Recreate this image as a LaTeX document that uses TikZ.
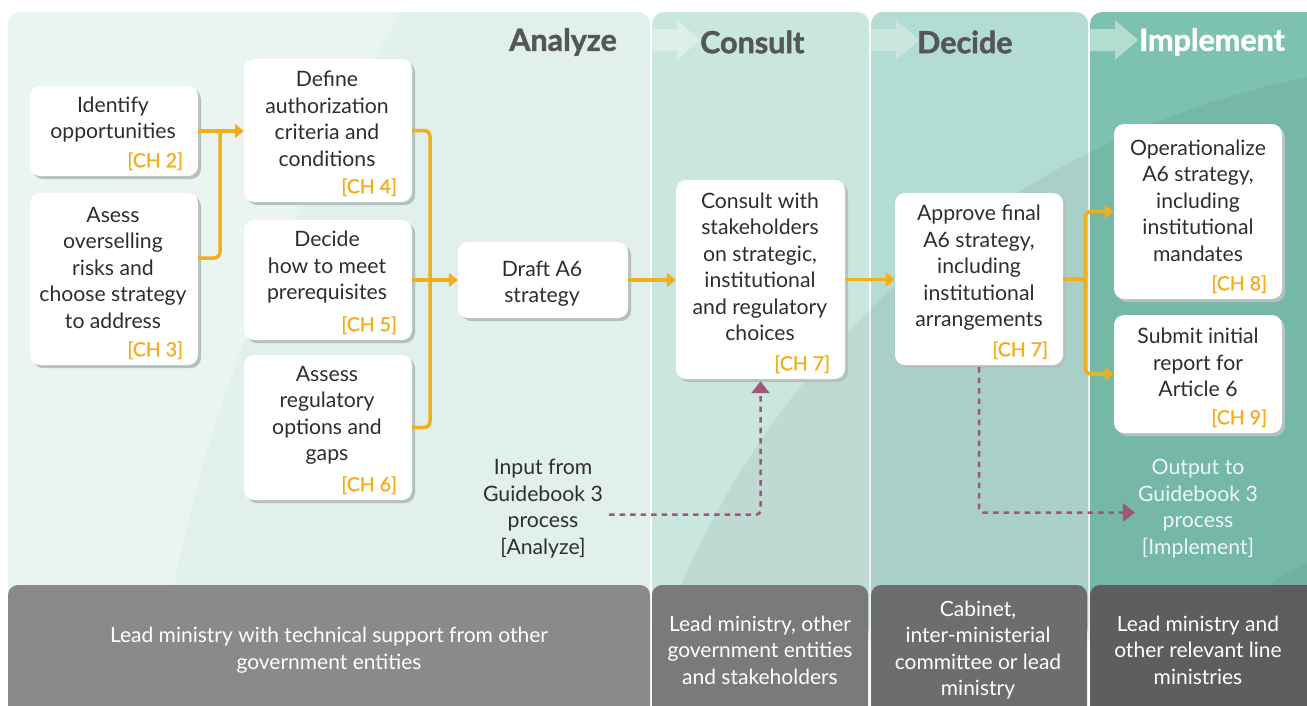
\documentclass[tikz,border=0pt]{standalone}
\usepackage{fontspec}
\setmainfont{Lato}
\newfontfamily\chfont[FakeBold=1.2]{Lato}
\newfontfamily\headfont[BoldFeatures={FakeBold=1.5}]{Lato}
\usetikzlibrary{arrows.meta,shadows}
\definecolor{pA}{HTML}{E1F0EC}
\definecolor{pC}{HTML}{C9E6DF}
\definecolor{pD}{HTML}{B3DCD3}
\definecolor{pI}{HTML}{7CC2AE}
\definecolor{chC}{HTML}{DCEFEA}
\definecolor{chD}{HTML}{C9E7DF}
\definecolor{chI}{HTML}{B3DDD0}
\definecolor{gA}{HTML}{8A8A8C}
\definecolor{gC}{HTML}{7A7A7C}
\definecolor{gD}{HTML}{6D6D6F}
\definecolor{gI}{HTML}{5E5E60}
\definecolor{txt}{HTML}{2E2E2E}
\definecolor{hd}{HTML}{555658}
\definecolor{orng}{HTML}{F3AE1B}
\definecolor{purp}{HTML}{9E5679}
\definecolor{shd}{HTML}{B4C2BF}
\definecolor{outc}{HTML}{EDF8F4}
\tikzset{
  box/.style={fill=white, rounded corners=10pt, inner sep=0pt,
    drop shadow={shadow xshift=3pt, shadow yshift=-3pt, fill=shd, opacity=1}},
  body/.style={inner sep=0pt, align=center, text=txt, font=\fontsize{21.2}{26.5}\selectfont},
  chl/.style={inner sep=0pt, anchor=east, text=orng, font=\chfont\fontsize{19.5}{24}\selectfont},
  head/.style={inner sep=0pt, font=\headfont\bfseries\fontsize{30.5}{34}\selectfont},
  gtxt/.style={inner sep=0pt, align=center, text=white, font=\fontsize{21}{26.5}\selectfont},
  oline/.style={draw=orng, line width=3.5pt, rounded corners=6pt},
  otip/.style={-{Triangle[length=9pt,width=14pt]}},
  pline/.style={draw=purp, line width=2.5pt, dash pattern=on 5.5pt off 5pt, rounded corners=4pt,
    -{Triangle[length=12pt,width=18pt]}},
}
\begin{document}
\begin{tikzpicture}[x=1pt,y=-1pt]
\clip (0,0) rectangle (1307,705);
\fill[white] (0,0) rectangle (1307,705);
% panels
\fill[pA, rounded corners=12pt] (8,12) rectangle (650,640);
\begin{scope}
  \clip[rounded corners=12pt] (8,12) rectangle (650,640);
  \fill[white, opacity=0.3] (8,12) -- (400,12) .. controls (300,200) and (200,400) .. (165,640) -- (8,640) -- cycle;
\end{scope}
\fill[pC, rounded corners=12pt] (652,12) rectangle (869,640);
\fill[pD, rounded corners=12pt] (871,12) rectangle (1088,640);
\fill[pI, rounded corners=12pt] (1090,12) rectangle (1320,640);
\begin{scope}
  \clip (652,12) rectangle (1320,640);
  \fill[black, opacity=0.05] (1480,930) circle[radius=870];
  \fill[black, opacity=0.04] (1420,820) circle[radius=280];
\end{scope}
% chevrons
\fill[chC] (652,29) -- (677,29) -- (677,20) -- (700,40) -- (677,60) -- (677,51) -- (652,51) -- cycle;
\fill[chD] (871,29) -- (896,29) -- (896,20) -- (919,40) -- (896,60) -- (896,51) -- (871,51) -- cycle;
\fill[chI] (1090,29) -- (1115,29) -- (1115,20) -- (1138,40) -- (1115,60) -- (1115,51) -- (1090,51) -- cycle;
% headers
\node[head, text=hd, anchor=east] (hA) at (617,42) {Analyze};
\node[head, text=hd, anchor=west] (hC) at (700,42) {Consult};
\node[head, text=hd, anchor=west] (hD) at (917,42) {Decide};
\node[head, text=white, anchor=west] (hI) at (1139,42) {Implement};
% bottom gray boxes
\fill[gA, rounded corners=10pt] (8,585) rectangle (650,730);
\fill[gC, rounded corners=10pt] (652,585) rectangle (868,730);
\fill[gD, rounded corners=10pt] (871,585) rectangle (1087,730);
\fill[gI, rounded corners=10pt] (1090,585) rectangle (1320,730);
\node[gtxt] (gtA) at (329,650) {Lead ministry with technical support from other\\government entities};
\node[gtxt] (gtC) at (760,650) {Lead ministry, other\\government entities\\and stakeholders};
\node[gtxt] (gtD) at (978,650) {Cabinet,\\inter-ministerial\\committee or lead\\ministry};
\node[gtxt] (gtI) at (1198,650) {Lead ministry and\\other relevant line\\ministries};
% boxes
\node[box, minimum width=168pt, minimum height=90pt] (b1) at (114,131) {};
\node[box, minimum width=168pt, minimum height=172pt] (b2) at (114,279) {};
\node[box, minimum width=168pt, minimum height=143pt] (b3) at (328,130.5) {};
\node[box, minimum width=168pt, minimum height=120pt] (b4) at (328,280) {};
\node[box, minimum width=168pt, minimum height=145pt] (b5) at (328,427.5) {};
\node[box, minimum width=170pt, minimum height=76pt] (b6) at (543,280) {};
\node[box, minimum width=169pt, minimum height=199pt] (b7) at (760.5,279.5) {};
\node[box, minimum width=168pt, minimum height=172pt] (b8) at (979,279) {};
\node[box, minimum width=168pt, minimum height=175pt] (b9) at (1198,211.5) {};
\node[box, minimum width=168pt, minimum height=118pt] (b10) at (1198,374) {};
% box texts
\node[body] (t1) at (113,119.5) {Identify\\opportunities};
\node[body] (t2) at (113,267.5) {Asess\\overselling\\risks and\\choose strategy\\to address};
\node[body] (t3) at (327,119) {Define\\authorization\\criteria and\\conditions};
\node[body] (t4) at (327,267.5) {Decide\\how to meet\\prerequisites};
\node[body] (t5) at (327,415.5) {Assess\\regulatory\\options and\\gaps};
\node[body] (t6) at (542,283.5) {Draft A6\\strategy};
\node[body] (t7) at (760,267) {Consult with\\stakeholders\\on strategic,\\institutional\\and regulatory\\choices};
\node[body] (t8) at (979,268) {Approve final\\A6 strategy,\\including\\institutional\\arrangements};
\node[body] (t9) at (1198,200.5) {Operationalize\\A6 strategy,\\including\\institutional\\mandates};
\node[body] (t10) at (1198,362.5) {Submit initial\\report for\\Article 6};
% chapter labels
\node[chl] (c1) at ([xshift=-15pt,yshift=15pt]b1.south east) {[CH 2]};
\node[chl] (c2) at ([xshift=-15pt,yshift=15pt]b2.south east) {[CH 3]};
\node[chl] (c3) at ([xshift=-15pt,yshift=15pt]b3.south east) {[CH 4]};
\node[chl] (c4) at ([xshift=-15pt,yshift=15pt]b4.south east) {[CH 5]};
\node[chl] (c5) at ([xshift=-15pt,yshift=15pt]b5.south east) {[CH 6]};
\node[chl] (c7) at ([xshift=-15pt,yshift=15pt]b7.south east) {[CH 7]};
\node[chl] (c8) at ([xshift=-15pt,yshift=15pt]b8.south east) {[CH 7]};
\node[chl] (c9) at ([xshift=-15pt,yshift=15pt]b9.south east) {[CH 8]};
\node[chl] (c10) at ([xshift=-15pt,yshift=15pt]b10.south east) {[CH 9]};
% input / output texts
\node[body] (inp) at (543,508.5) {Input from\\Guidebook 3\\process\\{[Analyze]}};
\node[body, text=outc] (outp) at (1198,508.5) {Output to\\Guidebook 3\\process\\{[Implement]}};
% orange connectors
\coordinate (j1) at (220,131);
\coordinate (j2) at (430,280);
\coordinate (j3) at (1085,279);
\draw[oline] ([yshift=21pt]b2.east) -| (j1);
\draw[oline, otip] (b1.east) -- (b1.east -| b3.west);
\draw[oline] (b3.east) -| (j2) |- (b5.east);
\draw[oline, otip] (b4.east) -- (b6.west);
\draw[oline, otip] (b6.east) -- (b6.east -| b7.west);
\draw[oline, otip] (b7.east) -- (b7.east -| b8.west);
\draw[oline] (b8.east) -- (j3);
\draw[oline, otip] (j3) |- (b9.west);
\draw[oline, otip] (j3) |- (b10.west);
% purple dashed connectors
\draw[pline] ([xshift=6pt,yshift=-6pt]inp.east) -| ([yshift=-2pt]b7.south);
\draw[pline] ([yshift=-2pt]b8.south) |- ([xshift=-3pt,yshift=-4pt]outp.west);
\end{tikzpicture}
\end{document}
